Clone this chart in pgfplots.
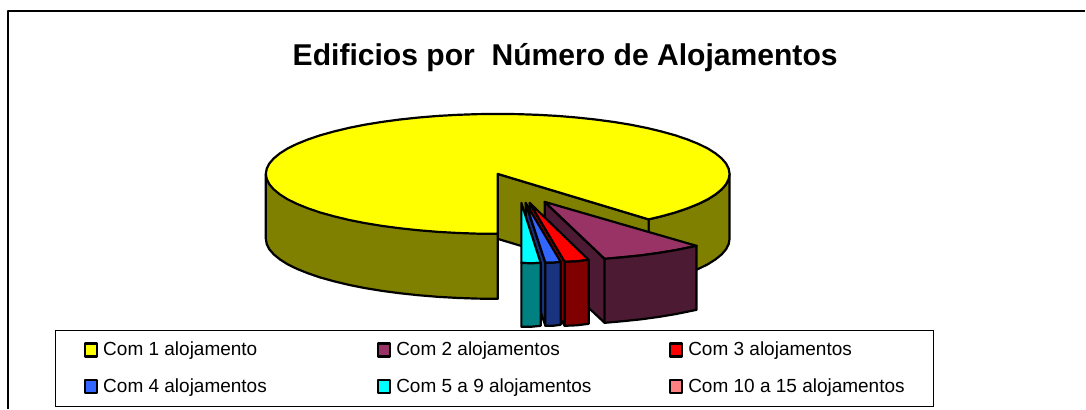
\documentclass[border=0pt]{standalone}
\usepackage{fontspec}
\setmainfont{Liberation Sans}
\usepackage{pgfplots}
\pgfplotsset{compat=1.18}

\definecolor{yel}{HTML}{FFFF00}
\definecolor{yelside}{HTML}{808000}
\definecolor{pur}{HTML}{993366}
\definecolor{purside}{HTML}{4D1A33}
\definecolor{rd}{HTML}{FF0000}
\definecolor{rdside}{HTML}{800000}
\definecolor{blu}{HTML}{3366FF}
\definecolor{bluside}{HTML}{1A3380}
\definecolor{cya}{HTML}{00FFFF}
\definecolor{cyaside}{HTML}{008080}
\definecolor{pnk}{HTML}{FF8080}

\newcommand{\legtext}[2]{\makebox[#1][l]{\hspace*{5pt}\smash{\raisebox{-1pt}{#2}}}}

\begin{document}
\begin{tikzpicture}
\begin{axis}[
  scale only axis, width=1086pt, height=409pt,
  xmin=0, xmax=1086, ymin=0, ymax=409,
  y dir=reverse, hide axis, clip=false,
  every axis plot/.append style={line join=round, line width=2.2pt, draw=black, mark=none, forget plot},
  legend columns=3,
  legend cell align=left,
  legend image code/.code={\draw[#1, line width=2.2pt] (0pt,-1pt) rectangle (12pt,12pt);},
  legend style={at={(axis cs:55,330)}, anchor=north west, draw=black, line width=1.2pt,
    inner xsep=28.5pt, inner ysep=12pt, row sep=21.5pt,
    font=\fontsize{19}{22}\selectfont,
    nodes={inner xsep=0pt, inner ysep=0pt}},
]
\path (axis cs:0,0) rectangle (axis cs:1086,409);
% outer frame
\addplot[line width=1.3pt] coordinates {(8,409)(8,11)(1086,11)};
% big slice: right outer wall
\addplot[fill=yelside] coordinates {(649,219.5)(662,216.4)(675.7,212.6)(688,208.4)(698.9,204)(708.3,199.4)(716,194.5)(722.1,189.5)(726.5,184.4)(729.1,179.2)(730,174)
  (730,239)(729.1,244.2)(726.5,249.4)(722.1,254.5)(716,259.5)(708.3,264.4)(698.9,269)(688,273.4)(675.7,277.6)(662,281.4)(649,284.5)} -- cycle;
% cut wall
\addplot[fill=yelside] coordinates {(498,174)(649,219.5)(649,284.5)(498,239)} -- cycle;
% front left wall
\addplot[fill=yelside] coordinates {(266,174)(266,239)(266.9,244.2)(269.5,249.4)(273.9,254.5)(280,259.5)(287.7,264.4)(297.1,269)(308,273.4)(320.3,277.6)(334,281.4)(348.9,285)(364.9,288.2)(382,291)(400,293.4)(418.7,295.4)(438,297)(457.7,298.1)(477.8,298.8)(498,299)
  (498,234)} -- cycle;
% top face
\addplot[fill=yel] coordinates {(498,174)(649,219.5)(662,216.4)(675.7,212.6)(688,208.4)(698.9,204)(708.3,199.4)(716,194.5)(722.1,189.5)(726.5,184.4)(729.1,179.2)(730,174)
  (729.1,168.8)(726.5,163.6)(722.1,158.5)(716,153.5)(708.3,148.6)(698.9,144)(688,139.6)(675.7,135.4)(662,131.6)(647.1,128)(631.1,124.8)(614,122)(596,119.6)(577.3,117.6)(558,116)(538.3,114.9)(518.2,114.2)(498,114)
  (477.8,114.2)(457.7,114.9)(438,116)(418.7,117.6)(400,119.6)(382,122)(364.9,124.8)(348.9,128)(334,131.6)(320.3,135.4)(308,139.6)(297.1,144)(287.7,148.6)(280,153.5)(273.9,158.5)(269.5,163.6)(266.9,168.8)(266,174)
  (266.9,179.2)(269.5,184.4)(273.9,189.5)(280,194.5)(287.7,199.4)(297.1,204)(308,208.4)(320.3,212.6)(334,216.4)(348.9,220)(364.9,223.2)(382,226)(400,228.4)(418.7,230.4)(438,232)(457.7,233.1)(477.8,233.8)(498,234)} -- cycle;
% com 2
\addplot[fill=purside] coordinates {(545,202)(605,259)(605,323)(545,267)} -- cycle;
\addplot[fill=pur] coordinates {(545,202)(697,246)(676,250.3)(659,253.1)(641.6,255.5)(623.2,257.4)(605,259)} -- cycle;
\addplot[fill=purside] coordinates {(605,259)(623.2,257.4)(641.6,255.5)(659,253.1)(676,250.3)(697,246)(697,310)(676,314.3)(659,317.1)(641.6,319.5)(623.2,321.4)(605,323)} -- cycle;
% com 3
\addplot[fill=rdside] coordinates {(530,203)(565,262)(565,326)(530,268)} -- cycle;
\addplot[fill=rd] coordinates {(530,203)(589,260)(577,261.5)(565,262)} -- cycle;
\addplot[fill=rdside] coordinates {(565,262)(577,261.5)(589,260)(589,324)(577,325.5)(565,326)} -- cycle;
% com 4
\addplot[fill=bluside] coordinates {(526,203)(545.7,263)(545.7,326)(526,268)} -- cycle;
\addplot[fill=blu] coordinates {(526,203)(561,262)(553,263)(545.7,263)} -- cycle;
\addplot[fill=bluside] coordinates {(545.7,263)(553,263)(561,262)(561,325)(553,326)(545.7,326)} -- cycle;
% com 5 a 9
\addplot[fill=cya] coordinates {(521.7,203)(541,263)(531,263.5)(521.7,263)} -- cycle;
\addplot[fill=cyaside] coordinates {(521.7,263)(531,263.5)(541,263)(541,326)(531,327)(521.7,327)} -- cycle;

\addlegendimage{fill=yel}
\addlegendentry{\legtext{279pt}{Com 1 alojamento}}
\addlegendimage{fill=pur}
\addlegendentry{\legtext{278pt}{Com 2 alojamentos}}
\addlegendimage{fill=rd}
\addlegendentry{\legtext{222pt}{Com 3 alojamentos}}
\addlegendimage{fill=blu}
\addlegendentry{\legtext{279pt}{Com 4 alojamentos}}
\addlegendimage{fill=cya}
\addlegendentry{\legtext{278pt}{Com 5 a 9 alojamentos}}
\addlegendimage{fill=pnk}
\addlegendentry{\legtext{222pt}{Com 10 a 15 alojamentos}}

\node[font=\fontsize{30.1}{32}\selectfont\bfseries] at (axis cs:565.5,58) {Edificios por\ \ Número de Alojamentos};
\end{axis}
\end{tikzpicture}
\end{document}
